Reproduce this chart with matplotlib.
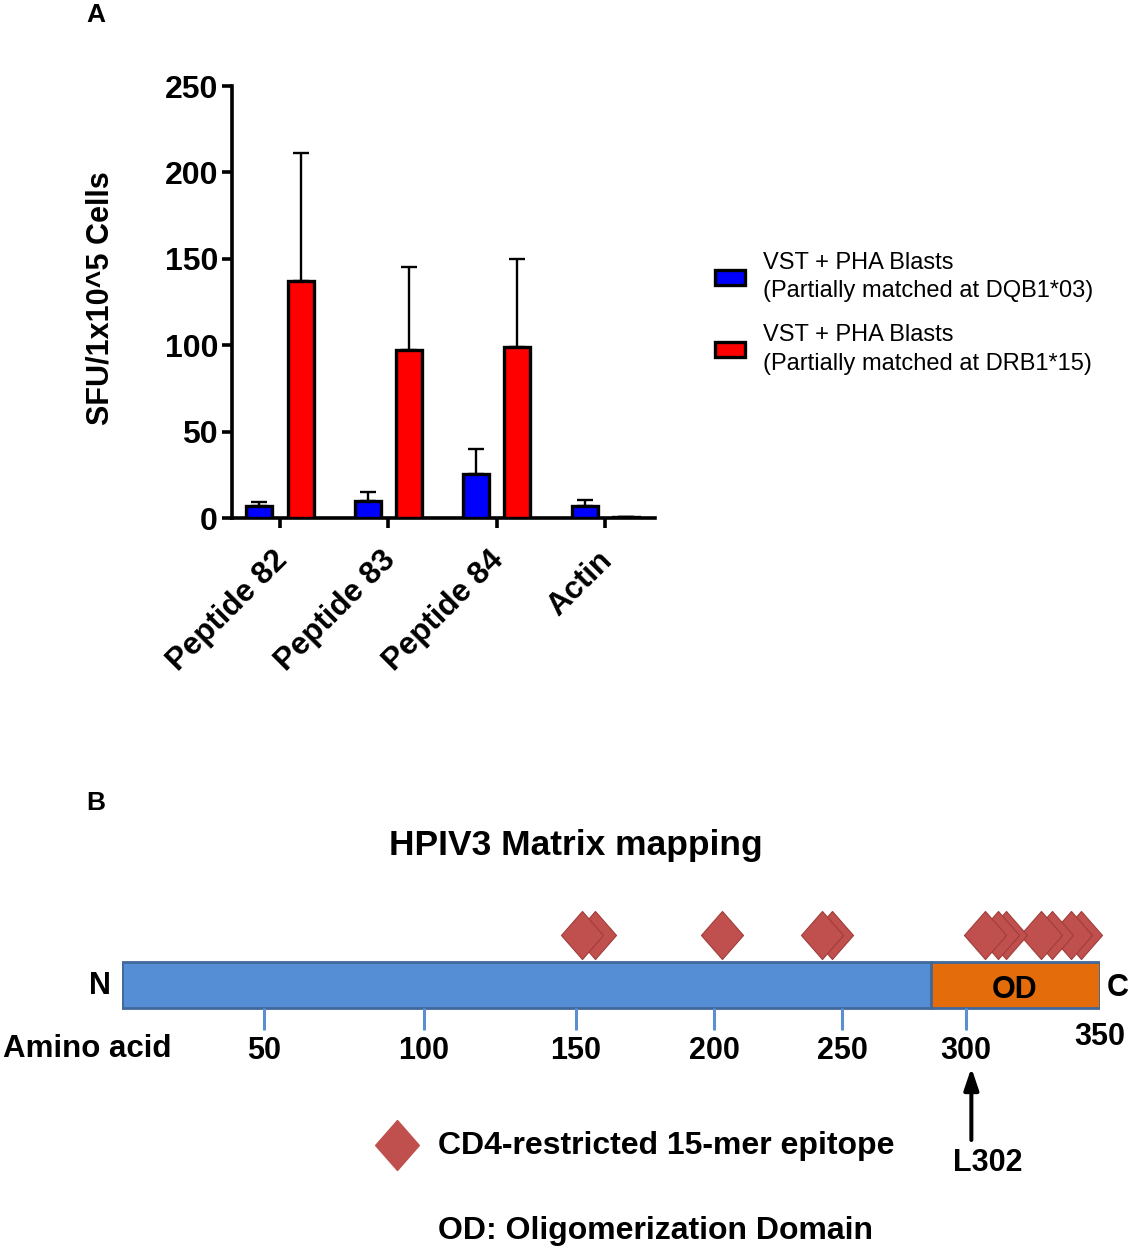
import numpy as np
import matplotlib
matplotlib.use('Agg')
import matplotlib.pyplot as plt
from matplotlib.path import Path
from matplotlib.transforms import ScaledTranslation

plt.rcParams['font.family'] = ['Liberation Sans', 'DejaVu Sans']

# panel A: ELISpot responses
groups = ['Peptide 82', 'Peptide 83', 'Peptide 84', 'Actin']
dqb_mean = [6.8, 9.8, 25.3, 6.8]
dqb_err = [2.6, 5.5, 14.5, 3.8]
drb_mean = [137.4, 97.3, 99.0, 0.5]
drb_err = [74.0, 48.2, 50.6, 0.0]
series_labels = ['VST + PHA Blasts\n(Partially matched at DQB1*03)',
                 'VST + PHA Blasts\n(Partially matched at DRB1*15)']

# panel B: matrix protein map
matrix_len = 350
od_start = 286
aa_ticks = [50, 100, 150, 200, 250, 300]
epitopes = [152, 157, 203, 242, 246, 307, 312, 315, 328, 332, 339, 343]
marker_site = 302
# the ruler in the source figure is hand drawn, tick spacing is uneven
ruler_aa = [0, 50, 100, 150, 200, 250, 300, 350]
ruler_pos = [0, 142, 302, 454, 592, 720, 844, 978]

W, H = 1134, 1253
fig = plt.figure(figsize=(W / 100, H / 100), dpi=100)


def fx(px):
    return px / W


def fy(py):
    return 1 - py / H


# ---------------- panel A ----------------
ax = fig.add_axes([fx(232), fy(518), fx(655) - fx(232), (518 - 86) / H])
x = np.arange(len(groups))
w = 0.24
ekw = dict(ecolor='black', elinewidth=1.7, capsize=6, capthick=1.7)
ax.bar(x - 0.19, dqb_mean, w, color='#0000FF', edgecolor='black', linewidth=2.4,
       yerr=[np.zeros(len(groups)), dqb_err], error_kw=ekw, label=series_labels[0], zorder=3)
ax.bar(x + 0.19, drb_mean, w, color='#FF0000', edgecolor='black', linewidth=2.4,
       yerr=[np.zeros(len(groups)), drb_err], error_kw=ekw, label=series_labels[1], zorder=3)

ax.set_xlim(-0.443, 3.46)
ax.set_ylim(0, 250)
ax.set_yticks(range(0, 251, 50))
for s in ['top', 'right']:
    ax.spines[s].set_visible(False)
for s in ['left', 'bottom']:
    ax.spines[s].set_linewidth(2.6)
ax.tick_params(axis='both', width=2.6, length=7)
ax.tick_params(axis='y', labelsize=23, pad=3)
ax.tick_params(axis='x', pad=12.5)
for t in ax.get_yticklabels():
    t.set_fontweight('bold')
ax.set_xticks(x)
ax.set_xticklabels(groups, rotation=45, ha='right', va='top', rotation_mode='anchor',
                   fontsize=22.5, fontweight='bold')
shift = ScaledTranslation(-8 / 100, 0, fig.dpi_scale_trans)
for t in ax.get_xticklabels():
    t.set_transform(t.get_transform() + shift)
ax.set_ylabel('SFU/1x10^5 Cells', fontsize=22, fontweight='bold')
ax.yaxis.set_label_coords(-0.276, 0.51)

leg = ax.legend(loc='upper left', bbox_to_anchor=(fx(715), fy(252)), bbox_transform=fig.transFigure,
                frameon=False, fontsize=17, handlelength=1.27, handleheight=0.6,
                handletextpad=0.76, labelspacing=0.93, borderpad=0, borderaxespad=0)
for t in leg.get_texts():
    t.set_linespacing(1.38)

# ---------------- panel B ----------------
ax2 = fig.add_axes([fx(122), fy(1240), fx(1100) - fx(122), (1240 - 880) / H])
fwd = lambda a: np.interp(a, ruler_aa, ruler_pos)
inv = lambda p: np.interp(p, ruler_pos, ruler_aa)
ax2.set_xscale('function', functions=(fwd, inv))
ax2.set_xlim(0, matrix_len)
unit = 46.0
ax2.set_ylim(-(1240 - 1008) / unit, (1008 - 880) / unit)

ax2.barh(0.5, od_start, height=1, left=0, color='#558ED5', edgecolor='#41689A', linewidth=2)
ax2.barh(0.5, matrix_len - od_start, height=1, left=od_start, color='#E46C0A',
         edgecolor='#41689A', linewidth=2)
ax2.text((od_start + matrix_len) / 2, 0.4, 'OD', ha='center', va='center',
         fontsize=22, fontweight='bold')

for s in ax2.spines.values():
    s.set_visible(False)
ax2.spines['bottom'].set_position(('data', 0))
ax2.set_yticks([])
ax2.set_xticks(aa_ticks)
ax2.set_xticklabels([str(t) for t in aa_ticks], fontsize=22, fontweight='bold')
ax2.tick_params(axis='x', direction='out', length=15.8, width=2.2, color='#5B8FD0', pad=4.5)
ax2.minorticks_off()
ax2.text(matrix_len, -0.62, str(matrix_len), ha='center', va='center',
         fontsize=22, fontweight='bold', clip_on=False)

diamond = Path([(0, 1), (0.875, 0), (0, -1), (-0.875, 0), (0, 1)],
               [Path.MOVETO, Path.LINETO, Path.LINETO, Path.LINETO, Path.CLOSEPOLY])
ax2.scatter(epitopes[::-1], [1.587] * len(epitopes), marker=diamond, s=34.6 ** 2,
            c='#C0504D', edgecolors='#A03D3A', linewidths=0.8, zorder=4, clip_on=False)

ax2.annotate('', xy=(marker_site, -1.30), xytext=(marker_site, -2.87),
             arrowprops=dict(arrowstyle='-|>,head_width=0.22,head_length=0.65',
                             color='black', lw=2.9, shrinkA=0, shrinkB=0, mutation_scale=20))
ax2.annotate('L302', xy=(marker_site, -3.37), xytext=(12, 0), textcoords='offset points',
             ha='center', va='center', fontsize=22, fontweight='bold')

ax2.plot([fx(397)], [fy(1145)], marker=diamond, markersize=36, color='#C0504D',
         linestyle='none', transform=fig.transFigure, clip_on=False)

# text outside the axes
bold = dict(fontweight='bold')
fig.text(fx(96), fy(15), 'A', ha='center', va='center', fontsize=19, **bold)
fig.text(fx(96), fy(803), 'B', ha='center', va='center', fontsize=19, **bold)
fig.text(fx(576), fy(846), 'HPIV3 Matrix mapping', ha='center', va='center', fontsize=25.5, **bold)
fig.text(fx(100), fy(986), 'N', ha='center', va='center', fontsize=22, **bold)
fig.text(fx(1118), fy(988), 'C', ha='center', va='center', fontsize=22, **bold)
fig.text(fx(3), fy(1049), 'Amino acid', ha='left', va='center', fontsize=22.5, **bold)
fig.text(fx(438), fy(1146), 'CD4-restricted 15-mer epitope', ha='left', va='center', fontsize=23, **bold)
fig.text(fx(438), fy(1231), 'OD: Oligomerization Domain', ha='left', va='center', fontsize=23, **bold)

fig.savefig('out.png', dpi=100)
